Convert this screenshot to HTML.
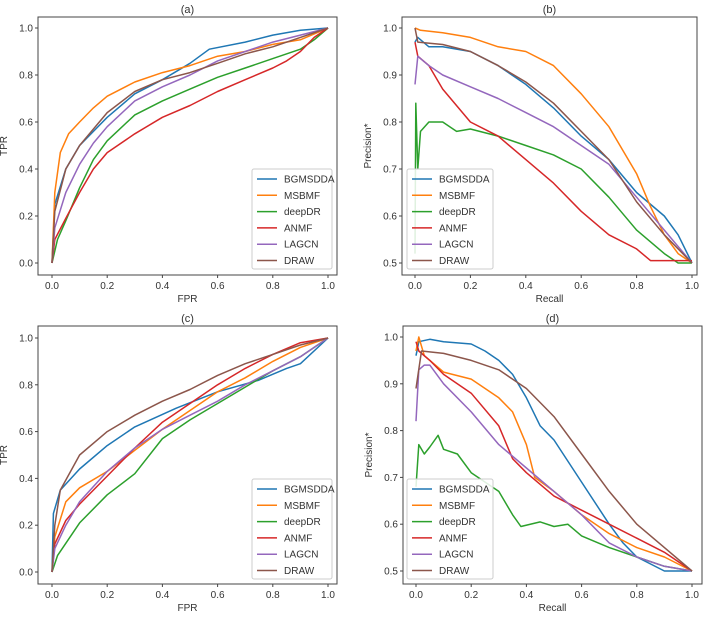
<!DOCTYPE html>
<html><head><meta charset="utf-8"><style>
html,body{margin:0;padding:0;background:#fff;}
svg text{font-family:"Liberation Sans",sans-serif;fill:#333;}
</style></head><body>
<svg id="fig" width="708" height="616" xmlns="http://www.w3.org/2000/svg"></svg>
<script>
const seriesNames=["BGMSDDA","MSBMF","deepDR","ANMF","LAGCN","DRAW"];
const colors=["#1f77b4","#ff7f0e","#2ca02c","#d62728","#9467bd","#8c564b"];
const rocTicks=["0.0","0.2","0.4","0.6","0.8","1.0"];
const prTicks=["0.5","0.6","0.7","0.8","0.9","1.0"];
const xTicks=["0.0","0.2","0.4","0.6","0.8","1.0"];
const dataA=[
[[0,0],[0.01,0.25],[0.05,0.4],[0.1,0.5],[0.2,0.62],[0.3,0.72],[0.4,0.78],[0.5,0.85],[0.57,0.91],[0.7,0.94],[0.8,0.97],[0.9,0.99],[1,1]],
[[0,0],[0.01,0.3],[0.03,0.47],[0.06,0.55],[0.1,0.6],[0.15,0.66],[0.2,0.71],[0.3,0.77],[0.4,0.81],[0.5,0.84],[0.6,0.88],[0.7,0.9],[0.8,0.93],[0.9,0.95],[1,1]],
[[0,0],[0.02,0.1],[0.05,0.18],[0.1,0.32],[0.15,0.44],[0.2,0.52],[0.3,0.63],[0.4,0.69],[0.5,0.74],[0.6,0.79],[0.7,0.83],[0.8,0.87],[0.9,0.91],[0.95,0.95],[1,1]],
[[0,0],[0.01,0.1],[0.05,0.19],[0.1,0.3],[0.15,0.4],[0.2,0.47],[0.3,0.55],[0.4,0.62],[0.5,0.67],[0.6,0.73],[0.7,0.78],[0.8,0.83],[0.85,0.86],[0.9,0.9],[0.95,0.96],[1,1]],
[[0,0],[0.01,0.15],[0.05,0.3],[0.1,0.42],[0.15,0.51],[0.2,0.58],[0.3,0.69],[0.4,0.75],[0.5,0.8],[0.6,0.86],[0.7,0.9],[0.8,0.94],[0.9,0.97],[1,1]],
[[0,0],[0.01,0.22],[0.05,0.4],[0.1,0.5],[0.2,0.64],[0.3,0.73],[0.4,0.78],[0.5,0.81],[0.6,0.85],[0.7,0.89],[0.8,0.92],[0.9,0.96],[1,1]]];
const dataB=[
[[0,0.97],[0.01,0.98],[0.05,0.96],[0.1,0.96],[0.2,0.95],[0.3,0.92],[0.4,0.88],[0.5,0.83],[0.6,0.77],[0.7,0.72],[0.8,0.65],[0.9,0.6],[0.95,0.56],[1,0.5]],
[[0,1.0],[0.02,0.995],[0.1,0.99],[0.2,0.98],[0.3,0.96],[0.4,0.95],[0.5,0.92],[0.6,0.86],[0.7,0.79],[0.8,0.69],[0.85,0.62],[0.9,0.56],[0.95,0.52],[1,0.5]],
[[0,0.52],[0.003,0.84],[0.01,0.7],[0.02,0.78],[0.05,0.8],[0.1,0.8],[0.15,0.78],[0.2,0.785],[0.3,0.77],[0.4,0.75],[0.5,0.73],[0.6,0.7],[0.7,0.64],[0.8,0.57],[0.9,0.52],[0.95,0.5],[1,0.5]],
[[0,0.97],[0.01,0.94],[0.05,0.92],[0.1,0.87],[0.2,0.8],[0.3,0.77],[0.4,0.72],[0.5,0.67],[0.6,0.61],[0.7,0.56],[0.8,0.53],[0.85,0.505],[1,0.505]],
[[0,0.88],[0.01,0.94],[0.03,0.93],[0.05,0.92],[0.1,0.9],[0.2,0.875],[0.3,0.85],[0.4,0.82],[0.5,0.79],[0.6,0.75],[0.7,0.71],[0.8,0.64],[0.9,0.57],[1,0.5]],
[[0,1.0],[0.01,0.97],[0.1,0.965],[0.2,0.95],[0.3,0.92],[0.4,0.885],[0.5,0.84],[0.6,0.78],[0.7,0.72],[0.8,0.63],[0.9,0.56],[1,0.5]]];
const dataC=[
[[0,0],[0.005,0.25],[0.03,0.35],[0.1,0.44],[0.2,0.54],[0.3,0.62],[0.45,0.7],[0.6,0.77],[0.75,0.82],[0.85,0.87],[0.9,0.89],[1,1]],
[[0,0],[0.01,0.15],[0.05,0.3],[0.1,0.36],[0.2,0.43],[0.3,0.52],[0.4,0.61],[0.5,0.69],[0.6,0.77],[0.7,0.83],[0.8,0.9],[0.9,0.96],[1,1]],
[[0,0],[0.02,0.07],[0.1,0.21],[0.2,0.33],[0.3,0.42],[0.4,0.57],[0.5,0.65],[0.6,0.72],[0.7,0.79],[0.8,0.86],[0.9,0.92],[1,1]],
[[0,0],[0.01,0.12],[0.05,0.22],[0.1,0.29],[0.2,0.41],[0.3,0.53],[0.4,0.64],[0.5,0.72],[0.6,0.8],[0.7,0.87],[0.8,0.93],[0.9,0.98],[1,1]],
[[0,0],[0.01,0.1],[0.05,0.2],[0.1,0.3],[0.2,0.43],[0.3,0.53],[0.4,0.61],[0.5,0.67],[0.6,0.73],[0.7,0.8],[0.8,0.86],[0.9,0.92],[1,1]],
[[0,0],[0.01,0.2],[0.03,0.35],[0.1,0.5],[0.2,0.6],[0.3,0.67],[0.4,0.73],[0.5,0.78],[0.6,0.84],[0.7,0.89],[0.8,0.93],[0.9,0.97],[1,1]]];
const dataD=[
[[0,0.96],[0.01,0.99],[0.05,0.995],[0.1,0.99],[0.2,0.985],[0.25,0.97],[0.3,0.95],[0.35,0.92],[0.4,0.87],[0.45,0.81],[0.5,0.78],[0.6,0.69],[0.7,0.6],[0.75,0.56],[0.8,0.53],[0.9,0.5],[1,0.5]],
[[0,0.97],[0.01,1.0],[0.03,0.96],[0.1,0.925],[0.2,0.91],[0.3,0.87],[0.35,0.84],[0.4,0.77],[0.43,0.7],[0.5,0.67],[0.6,0.62],[0.7,0.58],[0.8,0.55],[0.9,0.53],[1,0.5]],
[[0,0.68],[0.01,0.77],[0.03,0.75],[0.05,0.765],[0.08,0.79],[0.1,0.76],[0.15,0.75],[0.2,0.71],[0.3,0.67],[0.35,0.62],[0.38,0.595],[0.45,0.605],[0.5,0.595],[0.55,0.6],[0.6,0.575],[0.7,0.55],[0.8,0.53],[0.9,0.51],[1,0.5]],
[[0,0.99],[0.01,0.97],[0.05,0.95],[0.1,0.92],[0.2,0.88],[0.3,0.81],[0.35,0.74],[0.4,0.71],[0.5,0.66],[0.6,0.63],[0.7,0.6],[0.8,0.57],[0.9,0.54],[1,0.5]],
[[0,0.82],[0.01,0.93],[0.03,0.94],[0.05,0.94],[0.1,0.9],[0.2,0.84],[0.3,0.77],[0.4,0.72],[0.5,0.67],[0.6,0.62],[0.7,0.56],[0.8,0.53],[0.9,0.51],[1,0.5]],
[[0,0.89],[0.02,0.97],[0.1,0.965],[0.2,0.95],[0.3,0.93],[0.4,0.89],[0.5,0.83],[0.6,0.75],[0.7,0.67],[0.8,0.6],[0.9,0.55],[1,0.5]]];

const NS="http://www.w3.org/2000/svg";
const svg=document.getElementById('fig');
function mk(tag,attrs,parent){const e=document.createElementNS(NS,tag);for(const k in attrs)e.setAttribute(k,attrs[k]);(parent||svg).appendChild(e);return e;}

function panel(p){
  const g=mk('g',{});
  
  
  const sx=v=>p.x0+(v)*(p.x1-p.x0);
  const sy=v=>p.yb+(v-p.ymin)/(p.ymax-p.ymin)*(p.yt-p.yb);
  // frame
  const fr=mk('rect',{x:p.fx0,y:p.fy0,width:p.fx1-p.fx0,height:p.fy1-p.fy0,fill:'none',stroke:'#444','stroke-width':1},g);
  
  
  const t=mk('text',{x:(p.fx0+p.fx1)/2,y:p.fy0-4,'font-size':11,'text-anchor':'middle'},g);t.textContent='('+p.id+')';
  
  
  xTicks.forEach(s=>{const v=parseFloat(s);const x=sx(v);
    mk('line',{x1:x,x2:x,y1:p.fy1,y2:p.fy1+3,stroke:'#444'},g);
    const tt=mk('text',{x:x,y:p.fy1+14,'font-size':10,'text-anchor':'middle'},g);tt.textContent=s;
    
    });
  p.yTicks.forEach(s=>{const v=parseFloat(s);const y=sy(v);
    mk('line',{x1:p.fx0-3,x2:p.fx0,y1:y,y2:y,stroke:'#444'},g);
    const tt=mk('text',{x:p.fx0-5,y:y+3.5,'font-size':10,'text-anchor':'end'},g);tt.textContent=s;
    
    });
  const xl=mk('text',{x:(p.fx0+p.fx1)/2,y:p.fy1+27,'font-size':10,'text-anchor':'middle'},g);xl.textContent=p.xl;
  
  
  const yx=p.fx0-31, yy=(p.fy0+p.fy1)/2;
  const yl=mk('text',{x:yx,y:yy,'font-size':10,'text-anchor':'middle',transform:'rotate(-90 '+yx+' '+yy+')'},g);yl.textContent=p.yl;
  
  
  p.data.forEach((s,i)=>{
    const d=s.map((pt,j)=>(j?'L':'M')+sx(pt[0]).toFixed(1)+','+sy(pt[1]).toFixed(1)).join(' ');
    const l=mk('path',{d:d,fill:'none',stroke:colors[i],'stroke-width':1.5,'stroke-linejoin':'round'},g);
    
    
  });
  const lg=mk('g',{},g);
  
  
  mk('rect',{x:p.lx,y:p.ly,width:p.lw,height:100,fill:'#fff','fill-opacity':0.85,stroke:'#ccc',rx:2},lg);
  seriesNames.forEach((n,i)=>{const y=p.ly+10+i*16.3;
    mk('line',{x1:p.lx+5,x2:p.lx+25,y1:y,y2:y,stroke:colors[i],'stroke-width':1.5},lg);
    const tt=mk('text',{x:p.lx+32,y:y+3.5,'font-size':10},lg);tt.textContent=n;
    
    });
}
panel({id:'a',fx0:38,fx1:337,fy0:17,fy1:275,x0:52,x1:328,yt:28,yb:263,ymin:0,ymax:1,yTicks:rocTicks,xl:'FPR',yl:'TPR',data:dataA,lx:252,ly:169,lw:80});
panel({id:'b',fx0:402,fx1:697,fy0:17,fy1:275,x0:415,x1:692,yt:28,yb:263,ymin:0.5,ymax:1,yTicks:prTicks,xl:'Recall',yl:'Precision*',data:dataB,lx:407,ly:169,lw:86});
panel({id:'c',fx0:38,fx1:337,fy0:326,fy1:584,x0:52,x1:328,yt:338,yb:572,ymin:0,ymax:1,yTicks:rocTicks,xl:'FPR',yl:'TPR',data:dataC,lx:252,ly:479,lw:80});
panel({id:'d',fx0:403,fx1:702,fy0:326,fy1:584,x0:416,x1:692,yt:337,yb:571,ymin:0.5,ymax:1,yTicks:prTicks,xl:'Recall',yl:'Precision*',data:dataD,lx:407,ly:479,lw:86});
</script>
</body></html>
